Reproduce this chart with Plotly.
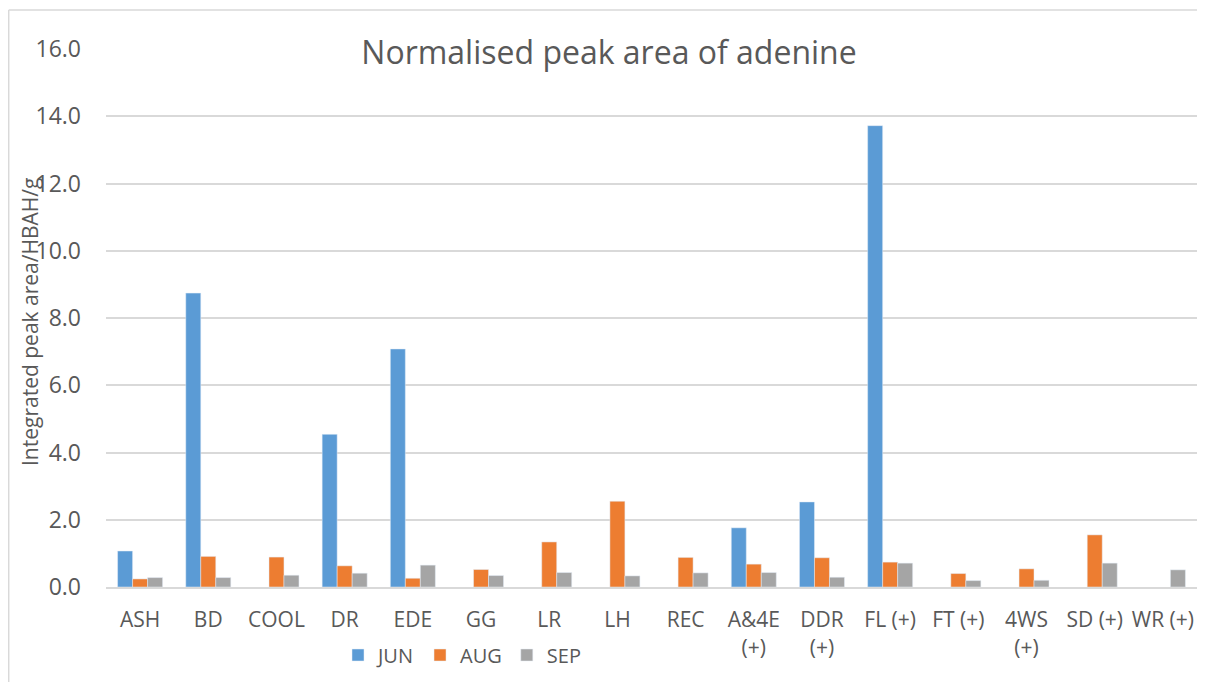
import plotly.graph_objects as go

categories = ["ASH", "BD", "COOL", "DR", "EDE", "GG", "LR", "LH", "REC",
              "A&4E<br>(+)", "DDR<br>(+)", "FL (+)", "FT (+)", "4WS<br>(+)", "SD (+)", "WR (+)"]
jun = [1.07, 8.74, None, 4.54, 7.08, None, None, None, None, 1.76, 2.53, 13.72, None, None, None, None]
aug = [0.24, 0.91, 0.89, 0.63, 0.26, 0.52, 1.34, 2.55, 0.88, 0.68, 0.87, 0.74, 0.40, 0.54, 1.55, None]
sep = [0.28, 0.28, 0.35, 0.41, 0.65, 0.34, 0.43, 0.33, 0.42, 0.43, 0.29, 0.71, 0.19, 0.20, 0.71, 0.51]
y_ticks = [0, 2, 4, 6, 8, 10, 12, 14, 16]

FONT = "Open Sans"
GREY = "#595959"

fig = go.Figure()
fig.add_trace(go.Bar(name="JUN", x=categories, y=jun, marker_color="#5B9BD5"))
fig.add_trace(go.Bar(name="AUG", x=categories, y=aug, marker_color="#ED7D31"))
fig.add_trace(go.Bar(name="SEP", x=categories, y=sep, marker_color="#A5A5A5"))

OFF = 8  # page body margin
W, H = 1205 - 2 * OFF, 690 - 2 * OFF
L, T = 106 - OFF, 49 - OFF
PR, PB = 1197 - OFF, 587 - OFF
R, B = W - PR, H - PB
pw, ph = PR - L, PB - T


def px_x(page_x):
    return (page_x - OFF - L) / pw


def px_y(page_y):
    return (PB - (page_y - OFF)) / ph


border = dict(color="#D9D9D9", width=1.5)

fig.update_layout(
    width=W, height=H,
    margin=dict(l=L, r=R, t=T, b=B),
    paper_bgcolor="white", plot_bgcolor="white",
    barmode="group", bargap=0.34, bargroupgap=0,
    font=dict(family=FONT, color=GREY),
    title=dict(text="Normalised peak area of adenine", x=(609 - OFF) / W, xanchor="center",
               y=1 - (53 - OFF) / H, yanchor="middle",
               font=dict(family=FONT, size=32, color=GREY)),
    legend=dict(orientation="h", x=px_x(338), xanchor="left",
                y=px_y(655), yanchor="middle",
                font=dict(family=FONT, size=20, color=GREY),
                itemwidth=30, tracegroupgap=0, bgcolor="rgba(0,0,0,0)"),
    xaxis=dict(showgrid=False, showline=True, linecolor="#D9D9D9", linewidth=2,
               ticks="", tickfont=dict(family=FONT, size=21, color=GREY),
               tickangle=0, ticklabelstandoff=13),
    yaxis=dict(range=[0, 16], tickvals=y_ticks, tickformat=".1f",
               showgrid=True, gridcolor="#D9D9D9", gridwidth=1.5,
               zeroline=False, showline=False, ticks="",
               tickfont=dict(family=FONT, size=23, color=GREY),
               ticklabelstandoff=24),
    annotations=[dict(text="Integrated peak area/HBAH/g", textangle=-90,
                      xref="paper", yref="paper", x=px_x(30), y=px_y(322),
                      xanchor="center", yanchor="middle", showarrow=False,
                      font=dict(family=FONT, size=21, color=GREY))],
    shapes=[
        dict(type="line", xref="paper", yref="paper",
             x0=px_x(8.7), x1=px_x(8.7), y0=px_y(720), y1=px_y(10),
             line=border, layer="below"),
        dict(type="line", xref="paper", yref="paper",
             x0=px_x(8.7), x1=px_x(1230), y0=px_y(10), y1=px_y(10),
             line=border, layer="below"),
    ],
)

fig.write_html("out.html")
